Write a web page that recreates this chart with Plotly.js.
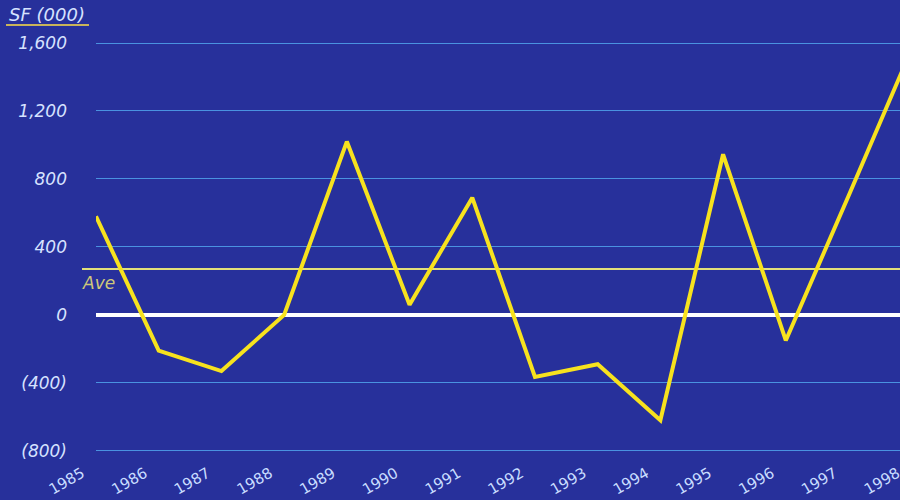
<!DOCTYPE html>
<html>
<head>
<meta charset="utf-8">
<script src="https://cdn.plot.ly/plotly-3.0.1.min.js"></script>
<style>
html, body { margin: 0; padding: 0; overflow: hidden; background: #27309b; }
#chart { width: 920px; height: 500px; }
</style>
</head>
<body>
<div id="chart"></div>
<script>
// Data
const years = [1985, 1986, 1987, 1988, 1989, 1990, 1991, 1992, 1993, 1994, 1995, 1996, 1997, 1998];
const sfValues = [580, -210, -330, 0, 1020, 60, 690, -365, -290, -620, 945, -150, 700, 1560];
const average = 270;
const yTickValues = [-800, -400, 0, 400, 800, 1200, 1600];
const yTickLabels = ['(800)', '(400)', '0', '400', '800', '1,200', '1,600'];
const xTickLabels = years.map(String);
const unitTitle = 'SF (000)';
const aveLabel = 'Ave';

const bg = '#27309b';
const textColor = '#d6e2ff';
const fontFam = 'DejaVu Sans, Verdana, sans-serif';
const plotLeft = 96, plotWidth = 824, plotHeight = 455;

const trace = {
  x: years,
  y: sfValues,
  type: 'scatter',
  mode: 'lines',
  line: { color: '#f7e21e', width: 4 },
  hoverinfo: 'skip'
};

const layout = {
  width: 920,
  height: 500,
  margin: { l: plotLeft, r: 0, t: 0, b: 45 },
  paper_bgcolor: bg,
  plot_bgcolor: bg,
  showlegend: false,
  xaxis: {
    range: [1985, 1998.14],
    tickvals: years,
    ticktext: xTickLabels,
    tickangle: -30,
    ticklabelshift: -14,
    ticklabelstandoff: 6,
    showgrid: false,
    zeroline: false,
    showline: false,
    ticks: '',
    tickfont: { family: fontFam, size: 15, color: '#c8dcff' }
  },
  yaxis: {
    range: [-824, 1853],
    tickvals: yTickValues,
    ticktext: yTickLabels,
    showgrid: true,
    gridcolor: '#4a92e0',
    gridwidth: 1,
    zeroline: true,
    zerolinecolor: '#ffffff',
    zerolinewidth: 3.5,
    showline: false,
    ticks: '',
    ticklabelstandoff: 28,
    tickfont: { family: fontFam, size: 17, color: textColor, style: 'italic' }
  },
  shapes: [
    {
      type: 'line', xref: 'paper', yref: 'y',
      x0: -14 / plotWidth, x1: 1, y0: average, y1: average,
      line: { color: '#e2e07a', width: 2 },
      layer: 'below'
    },
    {
      type: 'line', xref: 'paper', yref: 'paper',
      x0: (6 - plotLeft) / plotWidth, x1: (89 - plotLeft) / plotWidth,
      y0: 1 - 25 / plotHeight, y1: 1 - 25 / plotHeight,
      line: { color: '#c9b45a', width: 2 }
    }
  ],
  annotations: [
    {
      xref: 'paper', yref: 'paper',
      x: (7 - plotLeft) / plotWidth, y: 1 - 15 / plotHeight,
      xanchor: 'left', yanchor: 'middle',
      text: unitTitle, showarrow: false,
      font: { family: fontFam, size: 18, color: textColor, style: 'italic' }
    },
    {
      xref: 'paper', yref: 'y',
      x: (80 - plotLeft) / plotWidth, y: average,
      xanchor: 'left', yanchor: 'top', yshift: -2,
      text: aveLabel, showarrow: false,
      font: { family: fontFam, size: 17, color: '#cfc77a', style: 'italic' }
    }
  ]
};

Plotly.newPlot('chart', [trace], layout, { displayModeBar: false, staticPlot: true });
</script>
</body>
</html>
